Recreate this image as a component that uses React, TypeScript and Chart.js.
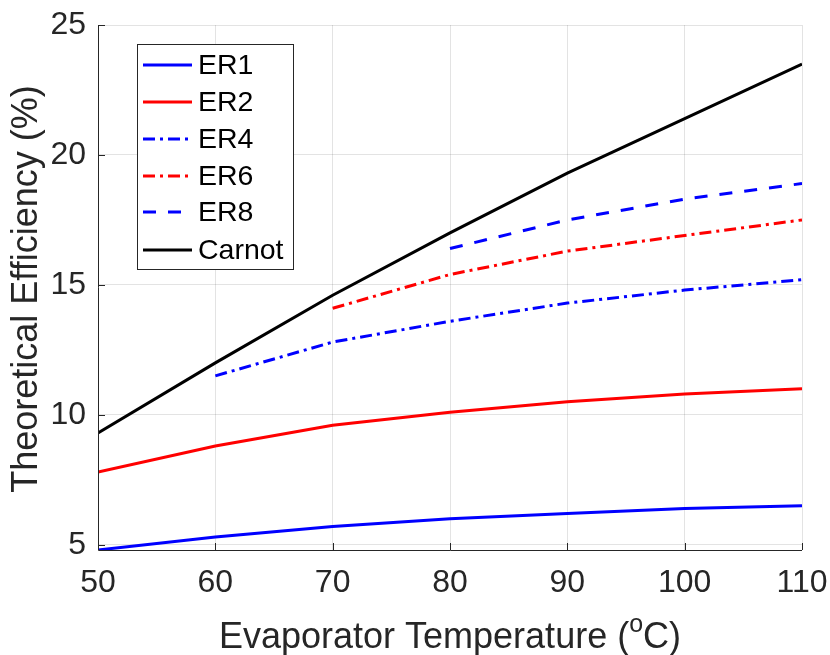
import { useEffect, useRef } from "react";
import { Chart, registerables } from "chart.js";

Chart.register(...registerables);

const temperatures = [50, 60, 70, 80, 90, 100, 110];
const er1 = [4.8, 5.3, 5.7, 6.0, 6.2, 6.4, 6.5];
const er2 = [7.8, 8.8, 9.6, 10.1, 10.5, 10.8, 11.0];
const er4 = [null, 11.5, 12.8, 13.6, 14.3, 14.8, 15.2];
const er6 = [null, null, 14.1, 15.4, 16.3, 16.9, 17.5];
const er8 = [null, null, null, 16.4, 17.5, 18.3, 18.9];
const carnot = [9.3, 12.0, 14.6, 17.0, 19.3, 21.4, 23.5];
const xTicks = [50, 60, 70, 80, 90, 100, 110];
const yTicks = [5, 10, 15, 20, 25];

const FONT = "'Liberation Sans', Arial, Helvetica, sans-serif";
const AXIS = "#262626";

const seriesDefs = [
  { label: "ER1", values: er1, color: "#0000ff", dash: [] as number[] },
  { label: "ER2", values: er2, color: "#ff0000", dash: [] as number[] },
  { label: "ER4", values: er4, color: "#0000ff", dash: [12, 5, 3, 5] },
  { label: "ER6", values: er6, color: "#ff0000", dash: [12, 5, 3, 5] },
  { label: "ER8", values: er8, color: "#0000ff", dash: [13, 12] },
  { label: "Carnot", values: carnot, color: "#000000", dash: [] as number[] },
];

const toPoints = (vals: (number | null)[]) =>
  temperatures
    .map((t, i) => ({ x: t, y: vals[i] }))
    .filter((p) => p.y !== null) as { x: number; y: number }[];

const decorPlugin = {
  id: "decor",
  afterDraw(chart: any) {
    const { ctx, chartArea } = chart;
    const { left, right, top, bottom } = chartArea;
    const xs = chart.scales.x;
    const ys = chart.scales.y;
    ctx.save();
    ctx.strokeStyle = AXIS;
    ctx.lineWidth = 1;
    ctx.beginPath();
    ctx.moveTo(left + 0.5, top);
    ctx.lineTo(left + 0.5, bottom + 0.5);
    ctx.lineTo(right, bottom + 0.5);
    ctx.stroke();
    ctx.beginPath();
    xTicks.forEach((t) => {
      const px = Math.round(xs.getPixelForValue(t)) + 0.5;
      ctx.moveTo(px, bottom);
      ctx.lineTo(px, bottom - 7);
    });
    yTicks.forEach((t) => {
      const py = Math.round(ys.getPixelForValue(t)) + 0.5;
      ctx.moveTo(left, py);
      ctx.lineTo(left + 7, py);
    });
    ctx.stroke();

    // x title with superscript
    ctx.fillStyle = AXIS;
    const main = "Evaporator Temperature (";
    ctx.font = `36px ${FONT}`;
    const w1 = ctx.measureText(main).width;
    ctx.font = `25px ${FONT}`;
    const w2 = ctx.measureText("o").width;
    ctx.font = `36px ${FONT}`;
    const w3 = ctx.measureText("C)").width;
    const total = w1 + w2 + w3;
    const x0 = (left + right) / 2 - total / 2;
    const by = 648;
    ctx.textBaseline = "alphabetic";
    ctx.textAlign = "left";
    ctx.fillText(main, x0, by);
    ctx.font = `25px ${FONT}`;
    ctx.fillText("o", x0 + w1, by - 16);
    ctx.font = `36px ${FONT}`;
    ctx.fillText("C)", x0 + w1 + w2, by);

    // y title
    ctx.save();
    ctx.translate(37, 289);
    ctx.rotate(-Math.PI / 2);
    ctx.textAlign = "center";
    ctx.textBaseline = "alphabetic";
    ctx.font = `36px ${FONT}`;
    ctx.fillText("Theoretical Efficiency (%)", 0, 0);
    ctx.restore();

    // legend
    const bx = 137, byTop = 44, bw = 156, bh = 225;
    ctx.fillStyle = "#ffffff";
    ctx.fillRect(bx, byTop, bw, bh);
    ctx.strokeStyle = AXIS;
    ctx.lineWidth = 1;
    ctx.strokeRect(bx + 0.5, byTop + 0.5, bw, bh);
    const rows = [65, 102, 139, 176, 212, 250];
    seriesDefs.forEach((s, i) => {
      const ry = rows[i];
      ctx.beginPath();
      ctx.setLineDash(s.dash);
      ctx.strokeStyle = s.color;
      ctx.lineWidth = 3;
      ctx.moveTo(143, ry);
      ctx.lineTo(192, ry);
      ctx.stroke();
      ctx.setLineDash([]);
      ctx.fillStyle = "#000000";
      ctx.font = `28.5px ${FONT}`;
      ctx.textAlign = "left";
      ctx.textBaseline = "middle";
      ctx.fillText(s.label, 198, ry + 1);
    });
    ctx.restore();
  },
};

export default function App() {
  const ref = useRef<HTMLCanvasElement | null>(null);
  useEffect(() => {
    if (!ref.current) return;
    const chart = new Chart(ref.current, {
      type: "line",
      data: {
        datasets: seriesDefs.map((s) => ({
          label: s.label,
          data: toPoints(s.values),
          borderColor: s.color,
          backgroundColor: s.color,
          borderWidth: 3,
          borderDash: s.dash,
          pointRadius: 0,
          tension: 0,
          fill: false,
        })),
      },
      options: {
        animation: false,
        responsive: false,
        maintainAspectRatio: false,
        layout: { padding: { left: 0, right: 28, top: 25, bottom: 0 } },
        plugins: {
          legend: { display: false },
          tooltip: { enabled: false },
        },
        scales: {
          x: {
            type: "linear",
            min: 50,
            max: 110,
            afterBuildTicks: (axis: any) => {
              axis.ticks = xTicks.map((v) => ({ value: v }));
            },
            afterFit: (axis: any) => {
              axis.height = 105;
              axis.paddingLeft = 0;
              axis.paddingRight = 0;
            },
            grid: { color: "rgba(38,38,38,0.13)", drawTicks: false, lineWidth: 1 },
            border: { display: false },
            ticks: {
              color: AXIS,
              font: { family: FONT, size: 32 },
              padding: 14,
              maxRotation: 0,
            },
          },
          y: {
            type: "linear",
            min: 4.8,
            max: 25,
            afterBuildTicks: (axis: any) => {
              axis.ticks = yTicks.map((v) => ({ value: v }));
            },
            afterFit: (axis: any) => {
              axis.width = 98;
              axis.paddingTop = 0;
              axis.paddingBottom = 0;
            },
            grid: { color: "rgba(38,38,38,0.13)", drawTicks: false, lineWidth: 1 },
            border: { display: false },
            ticks: {
              color: AXIS,
              font: { family: FONT, size: 32 },
              padding: 12,
            },
          },
        },
      },
      plugins: [decorPlugin],
    });
    return () => chart.destroy();
  }, []);
  return (
    <div style={{ position: "fixed", left: 0, top: 0, width: 830, height: 655, background: "#fff" }}>
      <canvas ref={ref} width={830} height={655} style={{ width: 830, height: 655 }} />
    </div>
  );
}
